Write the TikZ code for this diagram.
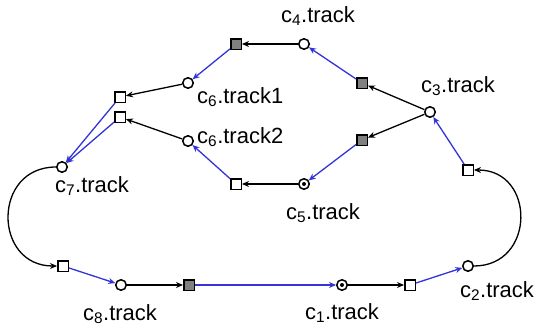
\documentclass[tikz,border=0pt]{standalone}
\usepackage{fontspec}
\setmainfont{Liberation Sans}
\usetikzlibrary{arrows.meta}
\definecolor{eblue}{RGB}{51,51,214}
\definecolor{sqgray}{RGB}{128,128,128}
\begin{document}
\begin{tikzpicture}[x=1pt,y=-1pt,
  port/.style={circle,draw,line width=1.5pt,fill=white,minimum size=10.5pt,inner sep=0pt},
  dport/.style={port},
  wsq/.style={rectangle,draw,line width=1.5pt,fill=white,minimum size=10.5pt,inner sep=0pt},
  gsq/.style={wsq,fill=sqgray},
  blk/.style={draw=black,line width=1.3pt,-{Stealth[length=7pt,width=6pt]}},
  blu/.style={draw=eblue,line width=1.3pt,-{Stealth[length=7pt,width=6pt]}},
  lbl/.style={font=\fontsize{22}{25}\selectfont,inner sep=0pt}]
\useasboundingbox (0,0) rectangle (542,332);
% nodes
\node[port] (c4) at (304,44) {};
\node[gsq] (g4) at (236,44) {};
\node[port] (c61) at (188,83) {};
\node[wsq] (s71) at (120,97) {};
\node[wsq] (s72) at (120,117) {};
\node[port] (c62) at (188,141) {};
\node[port] (c7) at (62,167) {};
\node[port] (c3) at (430,112) {};
\node[gsq] (g34) at (362,83) {};
\node[gsq] (g35) at (362,140) {};
\node[dport] (c5) at (304,184) {};
\node[wsq] (s5) at (236,184) {};
\node[wsq] (s3) at (468,170) {};
\node[port] (c2) at (468,266) {};
\node[wsq] (s2) at (410,285) {};
\node[dport] (c1) at (342,285) {};
\node[gsq] (g1) at (189,285) {};
\node[port] (c8) at (121,285) {};
\node[wsq] (s8) at (63,266) {};
\fill (c5.center) circle (2pt);
\fill (c1.center) circle (2pt);
% labels
\node[lbl] (l4) at (318,16) {c\textsubscript{4}.track};
\node[lbl,anchor=west] (l61) at (197,97) {c\textsubscript{6}.track1};
\node[lbl,anchor=west] (l62) at (197,137) {c\textsubscript{6}.track2};
\node[lbl] (l3) at (458,86) {c\textsubscript{3}.track};
\node[lbl] (l7) at (92,186) {c\textsubscript{7}.track};
\node[lbl] (l5) at (323,213) {c\textsubscript{5}.track};
\node[lbl] (l8) at (120,314) {c\textsubscript{8}.track};
\node[lbl] (l1) at (342,313) {c\textsubscript{1}.track};
\node[lbl] (l2) at (497,291) {c\textsubscript{2}.track};
% edges
\draw[blk] (c4) -- (g4);
\draw[blu] (g4) -- (c61);
\draw[blk] (c61) -- (s71);
\draw[blu] (s71) -- (c7);
\draw[blu] (s72) -- (c7);
\draw[blk] (c62) -- (s72);
\draw[blu] (s5) -- (c62);
\draw[blk] (c5) -- (s5);
\draw[blu] (g35) -- (c5);
\draw[blk] (c3) -- (g35);
\draw[blk] (c3) -- (g34);
\draw[blu] (g34) -- (c4);
\draw[blu] (s3) -- (c3);
\draw[blk] (c2) to[out=0,in=0,looseness=1.65] (s3);
\draw[blu] (s2) -- (c2);
\draw[blk] (c1) -- (s2);
\draw[blu] (g1) -- (c1);
\draw[blk] (c8) -- (g1);
\draw[blu] (s8) -- (c8);
\draw[blk] (c7) to[out=180,in=180,looseness=1.65] (s8);
\end{tikzpicture}
\end{document}
